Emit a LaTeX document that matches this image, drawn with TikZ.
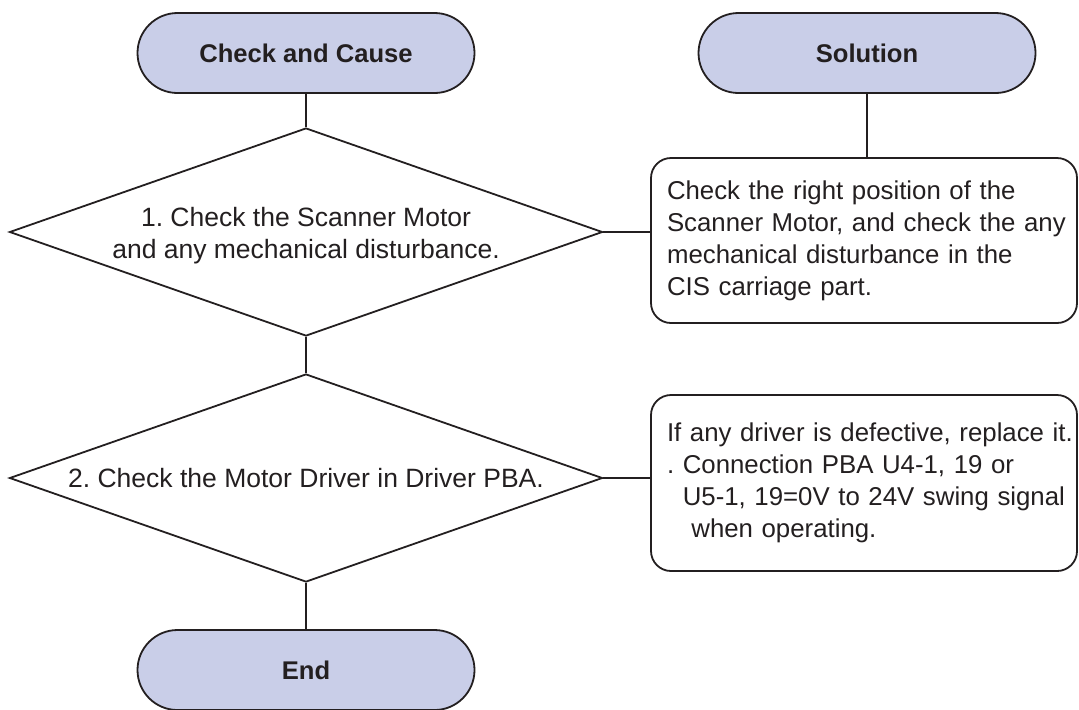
\documentclass[tikz,border=0pt]{standalone}
\usepackage{fontspec}
\setmainfont{Liberation Sans}
\usepackage{xcolor}
\usepackage{tikz}
\usetikzlibrary{shapes.geometric, positioning}

\definecolor{termfill}{HTML}{C9CEE8}
\definecolor{inkline}{HTML}{231F20}
\frenchspacing

\begin{document}
\begin{tikzpicture}[
  x=0.5pt, y=-0.5pt,
  terminal/.style={rectangle, rounded corners=20pt, draw=inkline, fill=termfill,
                   line width=0.9pt, minimum width=168.5pt, minimum height=40pt,
                   font=\fontsize{12.8}{15}\selectfont\bfseries, text=inkline},
  check/.style={diamond, draw=inkline, line width=0.9pt, minimum width=296.5pt,
                minimum height=104pt, inner sep=0pt},
  checktext/.style={font=\fontsize{13.25}{16}\selectfont, text=inkline, align=center},
  solution/.style={rectangle, rounded corners=10pt, draw=inkline, line width=0.9pt,
                   minimum width=213pt, text width=197pt, inner xsep=0pt, align=left,
                   font=\fontsize{12.9}{16}\selectfont, text=inkline},
  link/.style={draw=inkline, line width=0.9pt},
]
  \useasboundingbox (0,0) rectangle (1079,709);

  % Headers
  \node[terminal] at (306,53) (cause) {Check and Cause};
  \node[terminal] at (867,53) (sol)   {Solution};

  % Checks
  \node[check] at (306,232) (d1) {};
  \node[checktext, yshift=-2pt] at (d1) (d1txt) {1. Check the Scanner Motor\\and any mechanical disturbance.};
  \node[check] at (306,478) (d2) {};
  \node[checktext] at (d2) (d2txt) {2. Check the Motor Driver in Driver PBA.};

  % Solutions
  \node[solution, minimum height=82.5pt] at (864,240.5) (s1)
    {\mbox{Check the right position of the}\\
     \mbox{Scanner Motor, and check the any}\\
     \mbox{mechanical disturbance in the}\\
     \mbox{CIS carriage part.}};
  \node[solution, minimum height=88pt] at (864,483) (s2)
    {\mbox{If any driver is defective, replace it.}\\
     \mbox{. Connection PBA U4-1, 19 or}\\
     \mbox{\phantom{. }U5-1, 19=0V to 24V swing signal}\\
     \mbox{\phantom{. }\ when operating.}};

  % End
  \node[terminal] at (306,670) (finish) {End};

  % Connectors
  \draw[link] (cause.south) -- (d1.north);
  \draw[link] (sol.south) -- (sol.south |- s1.north);
  \draw[link] (d1.east) -- (d1.east -| s1.west);
  \draw[link] (d1.south) -- (d2.north);
  \draw[link] (d2.east) -- (d2.east -| s2.west);
  \draw[link] (d2.south) -- (finish.north);
\end{tikzpicture}
\end{document}
